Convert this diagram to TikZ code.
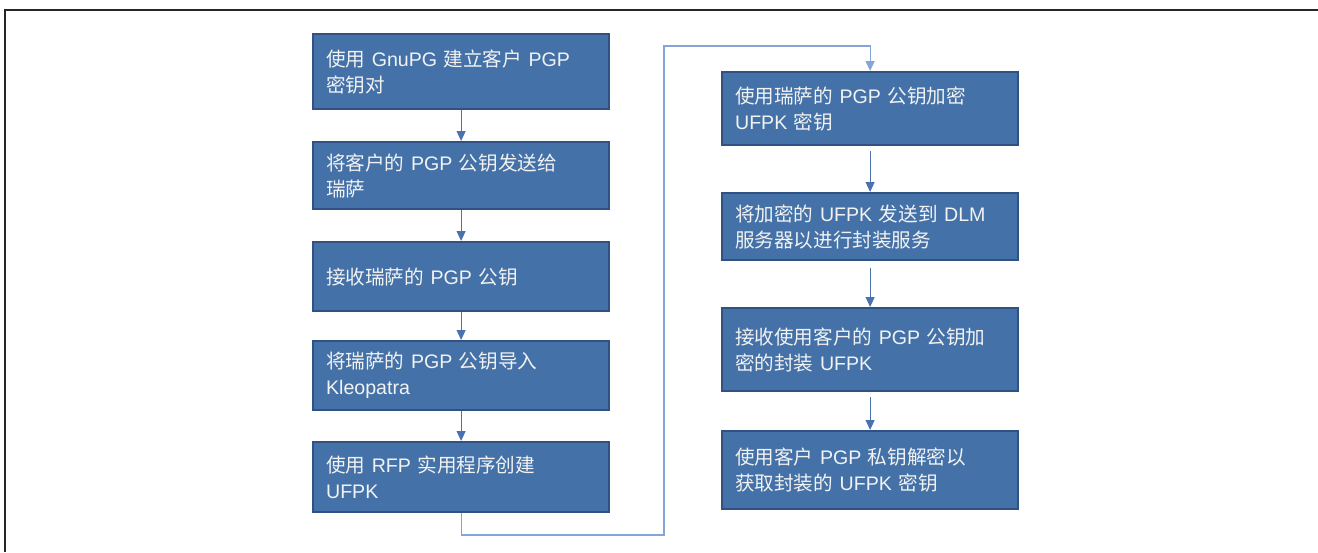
\documentclass[tikz,border=0pt]{standalone}
\usepackage{fontspec}
\setmainfont{Liberation Sans}
\newfontfamily\cjk{Noto Sans CJK SC}
\usetikzlibrary{arrows.meta}
\definecolor{boxfill}{HTML}{4472A8}
\definecolor{boxedge}{HTML}{2F5283}
\definecolor{arrowcol}{HTML}{4A72B0}
\definecolor{loopcol}{HTML}{86A4D6}
\definecolor{txtcol}{HTML}{F2F2F2}
\tikzset{
  stepbox/.style={rectangle, draw=boxedge, line width=2.2pt, fill=boxfill,
    text width=270pt, inner xsep=13pt, inner ysep=0pt, align=left,
    text=txtcol, font=\fontsize{19.6}{26}\selectfont, anchor=north west},
  flow/.style={draw=arrowcol, line width=1pt, -{Triangle[width=9pt,length=10pt]}},
  loopline/.style={draw=loopcol, line width=1.2pt, -{Triangle[width=9pt,length=10pt]}},
}
\begin{document}
\begin{tikzpicture}[x=1pt,y=-1pt]
\useasboundingbox (0,0) rectangle (1318,552);
\draw[line width=1.5pt, black!85] (5,552) -- (5,10) -- (1318,10);
% left column
\node[stepbox, minimum height=75pt] (b1) at (312,33) {{\cjk 使用} GnuPG {\cjk 建立客户} PGP\\{\cjk 密钥对}};
\node[stepbox, minimum height=67pt] (b2) at (312,141) {{\cjk 将客户的} PGP {\cjk 公钥发送给}\\{\cjk 瑞萨}};
\node[stepbox, minimum height=69pt] (b3) at (312,241) {{\cjk 接收瑞萨的} PGP {\cjk 公钥}};
\node[stepbox, minimum height=69pt] (b4) at (312,340) {{\cjk 将瑞萨的} PGP {\cjk 公钥导入}\\Kleopatra};
\node[stepbox, minimum height=70pt] (b5) at (312,441) {{\cjk 使用} RFP {\cjk 实用程序创建}\\UFPK};
% right column
\node[stepbox, minimum height=73pt] (b6) at (721,71) {{\cjk 使用瑞萨的} PGP {\cjk 公钥加密}\\UFPK {\cjk 密钥}};
\node[stepbox, minimum height=67pt] (b7) at (721,192) {{\cjk 将加密的} UFPK {\cjk 发送到} DLM\\{\cjk 服务器以进行封装服务}};
\node[stepbox, minimum height=83pt] (b8) at (721,307) {{\cjk 接收使用客户的} PGP {\cjk 公钥加}\\{\cjk 密的封装} UFPK};
\node[stepbox, minimum height=78pt] (b9) at (721,430) {{\cjk 使用客户} PGP {\cjk 私钥解密以}\\{\cjk 获取封装的} UFPK {\cjk 密钥}};
% connectors
\draw[flow] (b1.south) -- (b2.north);
\draw[flow] (b2.south) -- (b3.north);
\draw[flow] (b3.south) -- (b4.north);
\draw[flow] (b4.south) -- (b5.north);
\coordinate (c1) at (664,535);
\coordinate (c2) at (664,46);
\draw[loopline] (b5.south) |- (c1) -- (c2) -| (b6.north);
\draw[flow, shorten <=5pt] (b6.south) -- (b7.north);
\draw[flow, shorten <=7pt] (b7.south) -- (b8.north);
\draw[flow, shorten <=5pt] (b8.south) -- (b9.north);
\end{tikzpicture}
\end{document}
